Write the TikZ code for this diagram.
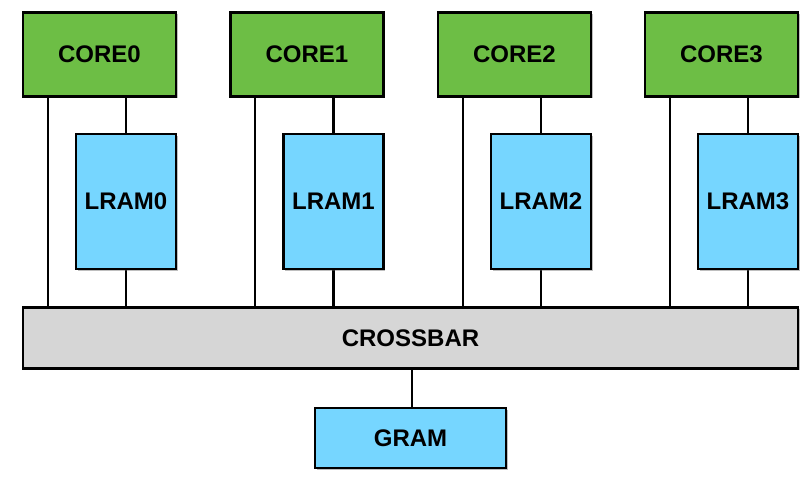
\documentclass[tikz,border=0pt]{standalone}
\usepackage{fontspec}
\setmainfont{Liberation Sans}
\usetikzlibrary{shadows}
\definecolor{coregreen}{HTML}{6DBE45}
\definecolor{ramblue}{HTML}{76D6FF}
\definecolor{bargray}{HTML}{D6D6D6}
\tikzset{
  blk/.style={draw=black, line width=2.6pt, font=\fontsize{24}{28}\selectfont\bfseries,
    inner sep=0pt,
    drop shadow={opacity=0.3, shadow xshift=1.5pt, shadow yshift=-2pt}},
  corebox/.style={blk, fill=coregreen, minimum width=153pt, minimum height=84pt},
  lrambox/.style={blk, fill=ramblue, minimum width=100pt, minimum height=135pt},
  barbox/.style={blk, fill=bargray, minimum width=775pt, minimum height=61pt},
  grambox/.style={blk, fill=ramblue, minimum width=191pt, minimum height=60pt},
  wire/.style={line width=2.4pt, draw=black}
}
\begin{document}
\begin{tikzpicture}[x=1pt,y=-1pt]
  \useasboundingbox (0,0) rectangle (809,486);
  % bus and global memory
  \node[barbox] (xbar) at (410.5,338) {CROSSBAR};
  \node[grambox] (gram) at (410.5,438) {GRAM};
  \draw[wire] (xbar.south -| gram.north) ++(1.5,0) coordinate (gtop) -- (gtop |- gram.north);
  % cores with their local memories
  \foreach \i/\cx in {0/99.5,1/307,2/514.5,3/721.5}{
    \node[corebox] (c\i) at (\cx,54.5) {CORE\i};
    \node[lrambox] (l\i) at (\cx+26.5,201.5) {LRAM\i};
    \draw[wire] ([xshift=26pt]c\i.south west) -- ([xshift=26pt]c\i.south west |- xbar.north);
    \draw[wire] (c\i.south -| l\i.north) -- (l\i.north);
    \draw[wire] (l\i.south) -- (l\i.south |- xbar.north);
  }
  % redraw boxes over wire ends
  \foreach \i/\cx in {0/99.5,1/307,2/514.5,3/721.5}{
    \node[corebox] at (c\i) {CORE\i};
    \node[lrambox] at (l\i) {LRAM\i};
  }
  \node[barbox] at (xbar) {CROSSBAR};
  \node[grambox] at (gram) {GRAM};
\end{tikzpicture}
\end{document}
